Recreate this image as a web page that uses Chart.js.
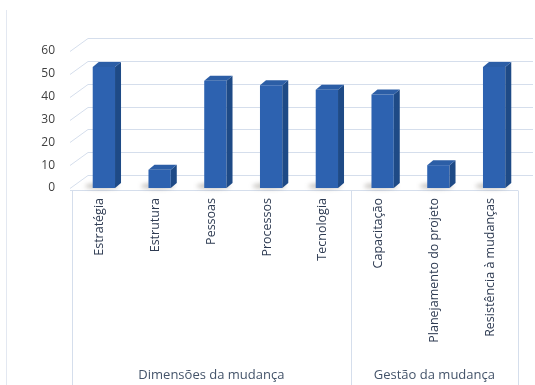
<!DOCTYPE html>
<html>
<head>
<meta charset="utf-8">
<script src="https://cdn.jsdelivr.net/npm/chart.js@4"></script>
<style>
  html, body { margin:0; padding:0; background:#fff; }
  #wrap { width:535px; height:385px; position:relative; }
</style>
</head>
<body>
<div id="wrap"><canvas id="chart" width="535" height="385"></canvas></div>
<script>
// ------------------------
// DATA
// ------------------------
const categories = ["Estratégia", "Estrutura", "Pessoas", "Processos", "Tecnologia",
                    "Capacitação", "Planejamento do projeto", "Resistência à mudanças"];
const values = [53, 8, 47, 45, 43, 41, 10, 53];
const groupLabels = ["Dimensões da mudança", "Gestão da mudança"];
const groupSizes = [5, 3];
const yTicks = [0, 10, 20, 30, 40, 50, 60];

// 3d look
const DEPTH_X = 18, DEPTH_Y = 13;   // wall depth
const BAR_DX = 6, BAR_DY = 5;       // bar depth
const SHIFT = 4;                    // bars sit a little behind the labels
const GRID = "#d5deec";

// back wall, left wall and floor
const wallPlugin = {
  id: "wall",
  beforeDatasetsDraw(chart){
    const { ctx, chartArea, scales } = chart;
    const y = scales.y;
    const left = chartArea.left - SHIFT - 2;
    ctx.save();
    ctx.strokeStyle = GRID;
    ctx.lineWidth = 1;
    yTicks.forEach(v => {
      const py = Math.round(y.getPixelForValue(v)) + 0.5;
      ctx.beginPath();
      ctx.moveTo(left, py);
      ctx.lineTo(left + DEPTH_X, py - DEPTH_Y);
      ctx.lineTo(533, py - DEPTH_Y);
      ctx.stroke();
    });
    // floor front edge
    const fy = Math.round(y.getPixelForValue(0)) + 2.5;
    ctx.beginPath();
    ctx.moveTo(left, fy);
    ctx.lineTo(chartArea.right - SHIFT, fy);
    ctx.stroke();
    // chart frame at left
    ctx.strokeStyle = "#e3e8f1";
    ctx.beginPath();
    ctx.moveTo(6.5, 10);
    ctx.lineTo(6.5, 385);
    ctx.stroke();

    // soft shadows under bars
    const meta = chart.getDatasetMeta(0);
    ctx.filter = "blur(2px)";
    ctx.fillStyle = "rgba(90,80,70,0.35)";
    meta.data.forEach(bar => {
      const b = bar.getProps(["x", "base", "width"], true);
      ctx.beginPath();
      ctx.ellipse(b.x - 2, b.base - 2, b.width * 0.75, 3, 0, 0, Math.PI * 2);
      ctx.fill();
    });
    ctx.restore();
  },
  afterDatasetsDraw(chart){
    const { ctx } = chart;
    const meta = chart.getDatasetMeta(0);
    ctx.save();
    meta.data.forEach(bar => {
      const b = bar.getProps(["x", "y", "base", "width"], true);
      const l = b.x - b.width / 2, r = b.x + b.width / 2;
      // side face
      ctx.fillStyle = "#1e4a86";
      ctx.beginPath();
      ctx.moveTo(r, b.y);
      ctx.lineTo(r + BAR_DX, b.y - BAR_DY);
      ctx.lineTo(r + BAR_DX, b.base - BAR_DY);
      ctx.lineTo(r, b.base);
      ctx.closePath();
      ctx.fill();
      // top face
      ctx.fillStyle = "#2c5ea6";
      ctx.beginPath();
      ctx.moveTo(l, b.y);
      ctx.lineTo(l + BAR_DX, b.y - BAR_DY);
      ctx.lineTo(r + BAR_DX, b.y - BAR_DY);
      ctx.lineTo(r, b.y);
      ctx.closePath();
      ctx.fill();
    });
    ctx.restore();
  },
  afterDraw(chart){
    // category table lines and group labels
    const { ctx, scales } = chart;
    const x = scales.x;
    const top = Math.round(scales.y.getPixelForValue(0)) + 2.5;
    const half = (x.getPixelForTick(1) - x.getPixelForTick(0)) / 2;
    ctx.save();
    ctx.strokeStyle = GRID;
    ctx.lineWidth = 1;
    let start = 0;
    const edges = [x.getPixelForTick(0) - half - SHIFT];
    groupSizes.forEach(n => {
      start += n;
      edges.push(x.getPixelForTick(start - 1) + half - SHIFT);
    });
    edges.forEach(ex => {
      const px = Math.round(ex) + 0.5;
      ctx.beginPath();
      ctx.moveTo(px, top);
      ctx.lineTo(px, 385);
      ctx.stroke();
    });
    ctx.fillStyle = "#44546a";
    ctx.font = "13px 'Open Sans'";
    ctx.textAlign = "center";
    ctx.textBaseline = "middle";
    groupLabels.forEach((g, i) => {
      ctx.fillText(g, (edges[i] + edges[i + 1]) / 2, 375);
    });
    ctx.restore();
  }
};

const ctx = document.getElementById("chart").getContext("2d");

new Chart(ctx, {
  type: "bar",
  data: {
    labels: categories,
    datasets: [{
      data: values,
      backgroundColor: (c) => {
        const el = c.element;
        if (!el || el.width === undefined) return "#2d62b0";
        const g = c.chart.ctx.createLinearGradient(el.x - el.width / 2, 0, el.x + el.width / 2, 0);
        g.addColorStop(0, "#3b76c6");
        g.addColorStop(0.5, "#3069b9");
        g.addColorStop(1, "#2658a2");
        return g;
      },
      borderWidth: 0,
      barPercentage: 0.8,
      categoryPercentage: 0.5
    }]
  },
  options: {
    responsive: false,
    animation: false,
    layout: { padding: { top: 51, right: 13, left: 36, bottom: 0 } },
    plugins: { legend: { display: false }, tooltip: { enabled: false } },
    scales: {
      y: {
        min: 0, max: 60,
        grid: { display: false, drawTicks: false },
        border: { display: false },
        ticks: { stepSize: 10, padding: 21, color: "#404040", font: { family: "Open Sans", size: 12 } },
        afterFit(s){ s.width = 40; }
      },
      x: {
        grid: { display: false, drawTicks: false },
        border: { display: false },
        ticks: {
          autoSkip: false, minRotation: 90, maxRotation: 90, padding: 10, labelOffset: -SHIFT,
          color: "#2e3b52", font: { family: "Open Sans", size: 12.5 }
        },
        afterFit(s){ s.height = 197; }
      }
    }
  },
  plugins: [wallPlugin]
});
</script>
</body>
</html>
